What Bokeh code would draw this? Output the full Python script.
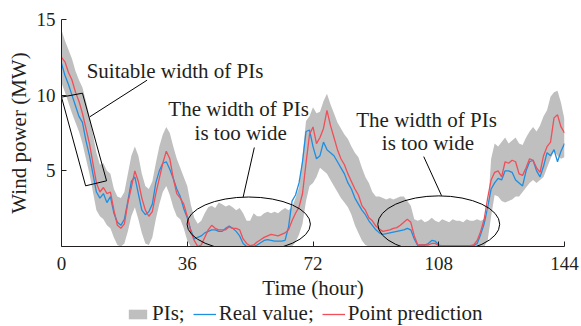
from bokeh.plotting import figure
from bokeh.layouts import column
from bokeh.models import Range1d, FixedTicker, Legend, LegendItem, Label
from bokeh.embed import file_html
from bokeh.resources import INLINE

# Hourly series over six days (0..144 h)
hours = list(range(145))

real_value = [
    12.1, 11.3, 10.7, 10.0, 9.3, 8.6, 8.2, 7.0, 6.0, 4.8,
    3.6, 3.2, 3.5, 2.9, 3.3, 2.2, 1.6, 1.4, 1.8, 3.0,
    4.3, 4.6, 3.5, 2.4, 2.1, 2.3, 2.8, 4.2, 5.0, 5.5,
    5.6, 5.1, 4.5, 3.8, 3.3, 2.5, 1.9, 1.1, 0.5, 0.6,
    0.7, 0.9, 1.0, 1.1, 1.1, 1.0, 1.0, 1.2, 1.35, 1.2,
    1.0, 0.7, 0.2, 0.0, 0.0, 0.0, 0.1, 0.25, 0.4, 0.45,
    0.4, 0.35, 0.35, 0.35, 0.4, 1.3, 3.0, 3.4, 4.2, 5.6,
    7.6, 7.7, 6.6, 5.8, 6.0, 6.9, 6.4, 6.2, 6.0, 5.6,
    5.2, 4.8, 4.2, 3.8, 3.2, 2.8, 2.4, 2.1, 1.7, 1.4,
    1.1, 0.9, 0.8, 0.85, 0.9, 0.95, 1.0, 1.05, 1.1, 1.2,
    1.1, 0.5, 0.05, 0.1, 0.1, 0.2, 0.4, 0.35, 0.1, 0.02,
    0.02, 0.02, 0.02, 0.02, 0.02, 0.02, 0.02, 0.02, 0.05, 0.2,
    0.8, 1.5, 2.6, 3.8, 4.2, 4.5, 4.4, 5.0, 5.0, 4.9,
    4.4, 4.2, 4.0, 5.0, 5.6, 5.7, 5.0, 4.6, 5.3, 6.2,
    6.0, 6.4, 5.6, 6.3, 6.8,
]

point_prediction = [
    12.5, 12.2, 11.5, 11.0, 10.2, 9.6, 8.8, 7.8, 6.8, 5.5,
    4.2, 3.6, 3.9, 3.5, 3.6, 2.4, 1.4, 1.2, 1.5, 2.9,
    3.9, 5.0, 4.3, 3.2, 2.4, 2.0, 2.3, 3.5, 4.5, 5.5,
    6.3, 5.8, 4.5, 3.5, 3.2, 2.8, 2.0, 1.0, 0.4, 0.0,
    0.1, 0.6, 1.1, 1.4, 1.2, 1.1, 1.1, 1.1, 1.3, 1.2,
    1.2, 1.1, 0.5, 0.2, 0.05, 0.1, 0.3, 0.45, 0.6, 0.7,
    0.8, 0.75, 0.7, 0.8, 0.9, 1.1, 1.7, 2.2, 2.6, 3.5,
    5.5, 7.4, 7.9, 6.8, 7.2, 7.8, 9.0, 8.0, 7.2, 6.4,
    5.8, 5.4, 4.8, 4.3, 3.8, 3.4, 2.7, 2.4, 1.9, 1.7,
    1.35, 1.15, 1.0, 1.05, 1.1, 1.2, 1.25, 1.4, 1.6, 1.8,
    1.6, 0.7, 0.1, 0.1, 0.1, 0.1, 0.2, 0.2, 0.05, 0.05,
    0.05, 0.05, 0.05, 0.05, 0.05, 0.05, 0.05, 0.05, 0.1, 0.4,
    1.0, 1.8, 3.2, 4.4, 4.9, 5.0, 4.6, 5.6, 5.5, 5.7,
    5.6, 4.8, 4.7, 5.2, 5.8, 5.7, 5.2, 4.9, 6.0, 6.6,
    6.9, 8.5, 8.7, 7.9, 7.5,
]

pi_upper = [
    14.3, 13.6, 13.0, 12.4, 11.6, 11.0, 10.5, 9.6, 8.6, 7.4,
    6.2, 5.4, 5.5, 5.0, 4.8, 3.8, 3.3, 3.2, 3.6, 4.8,
    6.0, 6.6, 6.0, 4.8, 4.0, 3.8, 4.3, 5.5, 6.6, 7.4,
    7.9, 7.5, 6.6, 5.8, 5.2, 4.6, 4.0, 2.8, 1.9, 1.5,
    1.7, 2.2, 2.6, 2.7, 2.55, 2.9, 2.8, 2.65, 2.75, 2.6,
    2.4, 2.55, 2.2, 1.7, 1.7, 2.2, 2.0, 2.0, 2.2, 2.3,
    2.2, 2.3, 2.2, 2.4, 2.55, 2.4, 2.6, 3.2, 3.9, 6.0,
    8.3, 8.6, 9.2, 8.8, 8.9, 9.6, 10.1, 9.4, 8.8, 8.2,
    7.8, 7.4, 7.1, 6.6, 6.2, 5.9, 5.2, 4.6, 4.2, 3.6,
    3.3, 3.3, 3.2, 3.1, 3.2, 3.1, 3.2, 3.3, 3.3, 3.0,
    2.7, 1.8, 1.7, 1.8, 1.6, 1.7, 1.9, 1.7, 1.6, 1.8,
    1.7, 1.6, 1.8, 1.7, 1.7, 1.6, 1.8, 1.7, 1.7, 1.8,
    1.7, 1.8, 2.4, 5.8, 6.8, 6.6, 6.9, 7.2, 6.8, 7.0,
    7.2, 6.8, 6.7, 7.2, 7.6, 7.9, 7.6, 8.0, 8.6, 9.0,
    9.9, 10.2, 10.3, 9.5, 8.4,
]

pi_lower = [
    10.8, 10.2, 9.5, 8.8, 8.2, 7.6, 6.8, 5.8, 4.8, 3.6,
    2.4, 2.0, 1.8, 1.4, 1.2, 0.6, 0.1, 0.0, 0.2, 1.0,
    2.0, 2.6, 1.8, 0.9, 0.2, 0.1, 0.6, 1.8, 2.8, 3.6,
    4.0, 3.4, 2.6, 2.0, 1.8, 1.2, 0.4, 0.0, 0.0, 0.0,
    0.0, 0.0, 0.0, 0.0, 0.0, 0.0, 0.0, 0.0, 0.0, 0.0,
    0.0, 0.0, 0.0, 0.0, 0.0, 0.0, 0.0, 0.0, 0.0, 0.0,
    0.0, 0.0, 0.0, 0.0, 0.0, 0.0, 0.0, 0.3, 0.8, 1.5,
    3.0, 4.0, 4.2, 4.6, 5.2, 5.0, 4.8, 4.4, 4.0, 3.6,
    3.2, 2.9, 2.6, 2.1, 1.4, 0.9, 0.4, 0.1, 0.0, 0.0,
    0.0, 0.0, 0.0, 0.0, 0.0, 0.0, 0.0, 0.0, 0.0, 0.0,
    0.0, 0.0, 0.0, 0.0, 0.0, 0.0, 0.0, 0.0, 0.0, 0.0,
    0.0, 0.0, 0.0, 0.0, 0.0, 0.0, 0.0, 0.0, 0.0, 0.0,
    0.0, 0.0, 0.4, 2.0, 3.4, 3.3, 3.0, 2.9, 3.0, 3.1,
    3.3, 3.3, 3.6, 3.9, 4.2, 4.4, 4.2, 4.4, 4.6, 5.2,
    5.8, 6.3, 6.0, 5.8, 5.9,
]

x_ticks = [0, 36, 72, 108, 144]
y_ticks = [5, 10, 15]

FONT = "Liberation Serif"
INK = "#231f20"
BAND = "#bfbfbf"
BLUE = "#1e8ee0"
RED = "#f04e58"


def draw_series(fig):
    """Prediction interval band, measured power and forecast on one figure."""
    b = fig.varea(x=hours, y1=pi_lower, y2=pi_upper, fill_color=BAND)
    r = fig.line(hours, real_value, line_color=BLUE, line_width=1.3)
    f = fig.line(hours, point_prediction, line_color=RED, line_width=1.3)
    return b, r, f


p = figure(
    width=581, height=302,
    output_backend="svg", toolbar_location=None,
    x_range=Range1d(0, 144), y_range=Range1d(0, 15),
    min_border_left=61, min_border_right=17,
    min_border_top=19, min_border_bottom=55,
)
p.outline_line_color = None
p.grid.visible = False
draw_series(p)

# Axes: ticks point into the plot area
for ax in (p.xaxis[0], p.yaxis[0]):
    ax.axis_line_color = INK
    ax.major_tick_line_color = INK
    ax.major_tick_in = 5
    ax.major_tick_out = 0
    ax.minor_tick_line_color = None
    ax.major_label_text_font = FONT
    ax.major_label_text_font_size = "19px"
    ax.major_label_text_color = INK
    ax.axis_label_text_font = FONT
    ax.axis_label_text_font_size = "21px"
    ax.axis_label_text_font_style = "normal"
    ax.axis_label_text_color = INK

p.xaxis.ticker = FixedTicker(ticks=x_ticks)
p.yaxis.ticker = FixedTicker(ticks=y_ticks)
p.xaxis.axis_label = "Time (hour)"
p.yaxis.axis_label = "Wind power (MW)"
p.xaxis.major_label_standoff = 10
p.xaxis.axis_label_standoff = 3
p.yaxis.major_label_standoff = 6
p.yaxis.axis_label_standoff = 3

# Callouts: box around the narrow-interval segment, ellipses around wide ones
p.patch(x=[0.0, 6.0, 12.9, 6.9], y=[9.87, 10.13, 4.34, 4.01],
        fill_color=None, line_color="black", line_width=1)
p.ellipse(x=[53.6, 108.0], y=[1.48, 1.47], width=[35.3, 34.9], height=[3.58, 3.75],
          fill_color=None, line_color="black", line_width=1)
p.segment(x0=[8.1, 52.0, 108.8], y0=[8.57, 3.26, 3.36],
          x1=[24.5, 55.2, 103.7], y1=[10.99, 6.54, 5.94],
          line_color="black", line_width=1)

notes = [
    ("Suitable width of PIs", 32.5, 11.6),
    ("The width of PIs", 50.7, 9.08),
    ("is too wide", 51.3, 7.47),
    ("The width of PIs", 104.5, 8.39),
    ("is too wide", 104.9, 6.84),
]
for txt, nx, ny in notes:
    p.add_layout(Label(x=nx, y=ny, text=txt, text_font=FONT, text_font_size="21px",
                       text_color=INK, text_align="center", text_baseline="middle"))

# Legend strip underneath the chart; its view window lies outside the data,
# so only the legend itself is visible
key = figure(
    width=581, height=24, output_backend="svg", toolbar_location=None,
    x_axis_type=None, y_axis_type=None,
    x_range=Range1d(-20, -10), y_range=Range1d(-20, -10),
    min_border_left=0, min_border_right=0, min_border_top=0, min_border_bottom=0,
)
key.outline_line_color = None
key.grid.visible = False
k_band, k_real, k_pred = draw_series(key)

legend = Legend(
    items=[
        LegendItem(label="PIs;", renderers=[k_band]),
        LegendItem(label="Real value;", renderers=[k_real]),
        LegendItem(label="Point prediction", renderers=[k_pred]),
    ],
    orientation="horizontal", location=(65, 0),
    label_text_font=FONT, label_text_font_size="21px", label_text_color=INK,
    glyph_width=23, glyph_height=12, label_standoff=3, spacing=8,
    padding=0, margin=0, border_line_color=None, background_fill_alpha=0,
)
key.add_layout(legend, "center")

layout = column(p, key, spacing=0)
open("out.html", "w").write(file_html(layout, INLINE))
